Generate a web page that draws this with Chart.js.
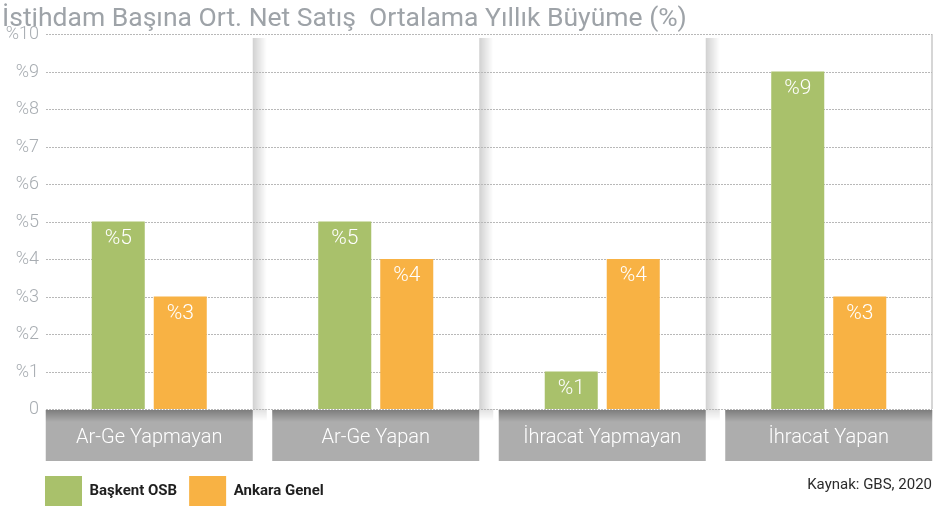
<!DOCTYPE html>
<html>
<head>
<meta charset="utf-8">
<script src="https://cdn.jsdelivr.net/npm/chart.js@4/dist/chart.umd.min.js"></script>
<style>
  html, body { margin: 0; padding: 0; background: #fff; overflow: hidden; }
  #wrap { width: 934px; height: 508px; overflow: hidden; position: relative; }
</style>
</head>
<body>
<div id="wrap"><canvas id="c" width="950" height="508"></canvas></div>
<script>
// veriler
const categories = ['Ar-Ge Yapmayan', 'Ar-Ge Yapan', 'İhracat Yapmayan', 'İhracat Yapan'];
const baskentOsb = [5, 5, 1, 9];
const ankaraGenel = [3, 4, 4, 3];
const seriesNames = ['Başkent OSB', 'Ankara Genel'];
const yTicks = [0, 1, 2, 3, 4, 5, 6, 7, 8, 9, 10];
const titleText = 'İstihdam Başına Ort. Net Satış  Ortalama Yıllık Büyüme (%)';
const sourceText = 'Kaynak: GBS, 2020';

const GREEN = '#a9c16b';
const ORANGE = '#f8b244';
const FONT = 'Roboto, "Open Sans", sans-serif';

// arka plan, ayraçlar, ızgara, kategori kutuları
const decorPlugin = {
    id: 'decor',
    beforeDatasetsDraw(chart) {
        const { ctx, chartArea, scales } = chart;
        const x = scales.x, y = scales.y;
        const boxW = 207;
        ctx.save();

        // gölgeli dikey ayraçlar
        for (let i = 0; i < categories.length - 1; i++) {
            const bx = x.getPixelForValue(i) + boxW / 2;
            const g = ctx.createLinearGradient(bx, 0, bx + 14, 0);
            g.addColorStop(0, 'rgba(0,0,0,0.18)');
            g.addColorStop(1, 'rgba(0,0,0,0)');
            ctx.fillStyle = g;
            ctx.fillRect(bx, 38, 14, chartArea.bottom - 38);
            const g2 = ctx.createLinearGradient(0, chartArea.bottom, 0, chartArea.bottom + 12);
            g2.addColorStop(0, 'rgba(0,0,0,0.12)');
            g2.addColorStop(1, 'rgba(0,0,0,0)');
            ctx.fillStyle = g2;
            ctx.fillRect(bx, chartArea.bottom, 14, 12);
        }

        // sağ kenar çizgisi
        const yTop = y.getPixelForValue(10);
        ctx.fillStyle = '#d6d6d6';
        ctx.fillRect(931, yTop, 2, chartArea.bottom - yTop);

        // kesikli ızgara ve y etiketleri
        ctx.font = '300 18px ' + FONT;
        ctx.textAlign = 'right';
        ctx.textBaseline = 'middle';
        yTicks.forEach(v => {
            const py = Math.round(y.getPixelForValue(v)) + 0.5;
            ctx.strokeStyle = '#b8b8b8';
            ctx.lineWidth = 1;
            ctx.setLineDash([2, 1]);
            ctx.beginPath();
            ctx.moveTo(46, py);
            ctx.lineTo(932, py);
            ctx.stroke();
            ctx.setLineDash([]);
            ctx.fillStyle = '#a8adb2';
            ctx.fillText(v === 0 ? '0' : '%' + v, 39, py);
        });

        // kategori kutuları
        const top = chartArea.bottom + 1;
        const h = 51;
        categories.forEach((label, i) => {
            const cx = x.getPixelForValue(i);
            const left = cx - boxW / 2;
            ctx.fillStyle = '#adadad';
            ctx.fillRect(left, top, boxW, h);
            const sg = ctx.createLinearGradient(0, top, 0, top + 12);
            sg.addColorStop(0, 'rgba(0,0,0,0.28)');
            sg.addColorStop(1, 'rgba(0,0,0,0)');
            ctx.fillStyle = sg;
            ctx.fillRect(left, top, boxW, 12);
            ctx.fillStyle = '#ffffff';
            ctx.font = '300 20px ' + FONT;
            ctx.textAlign = 'center';
            ctx.textBaseline = 'middle';
            ctx.fillText(label, cx, top + 28);
        });
        ctx.restore();
    },
    afterDatasetsDraw(chart) {
        const { ctx } = chart;
        ctx.save();
        ctx.fillStyle = '#ffffff';
        ctx.font = '300 21px ' + FONT;
        ctx.textAlign = 'center';
        ctx.textBaseline = 'middle';
        chart.data.datasets.forEach((ds, di) => {
            chart.getDatasetMeta(di).data.forEach((bar, i) => {
                ctx.fillText('%' + ds.data[i], bar.x, bar.y + 17);
            });
        });

        // başlık ve kaynak
        ctx.fillStyle = '#9ea3a8';
        ctx.font = '400 26.5px ' + FONT;
        ctx.textAlign = 'left';
        ctx.textBaseline = 'alphabetic';
        ctx.fillText(titleText, 2, 26);

        ctx.fillStyle = '#2b2b2b';
        ctx.font = '400 15px ' + FONT;
        ctx.textAlign = 'right';
        ctx.fillText(sourceText, 932, 489);
        ctx.restore();
    }
};

const chart = new Chart(document.getElementById('c'), {
    type: 'bar',
    data: {
        labels: categories,
        datasets: [
            { label: seriesNames[0], data: baskentOsb, backgroundColor: GREEN },
            { label: seriesNames[1], data: ankaraGenel, backgroundColor: ORANGE }
        ]
    },
    options: {
        responsive: false,
        animation: false,
        layout: { padding: { left: 33, right: 8, top: 34, bottom: -8 } },
        datasets: {
            bar: { categoryPercentage: 0.5475, barPercentage: 0.855 }
        },
        plugins: {
            legend: {
                position: 'bottom',
                align: 'start',
                labels: {
                    boxWidth: 37,
                    boxHeight: 30,
                    padding: 12,
                    color: '#1f1f1f',
                    font: { family: '"Liberation Sans Narrow", Roboto, sans-serif', size: 15, weight: 'bold' }
                }
            },
            tooltip: { enabled: false },
            title: { display: false }
        },
        scales: {
            x: {
                grid: { display: false },
                border: { display: false },
                ticks: { display: false },
                afterFit(scale) { scale.height = 55; }
            },
            y: {
                min: 0,
                max: 10,
                grid: { display: false, drawTicks: false },
                border: { display: false },
                ticks: { display: false, stepSize: 1 },
                afterFit(scale) { scale.width = 3; }
            }
        }
    },
    plugins: [decorPlugin]
});
</script>
</body>
</html>
